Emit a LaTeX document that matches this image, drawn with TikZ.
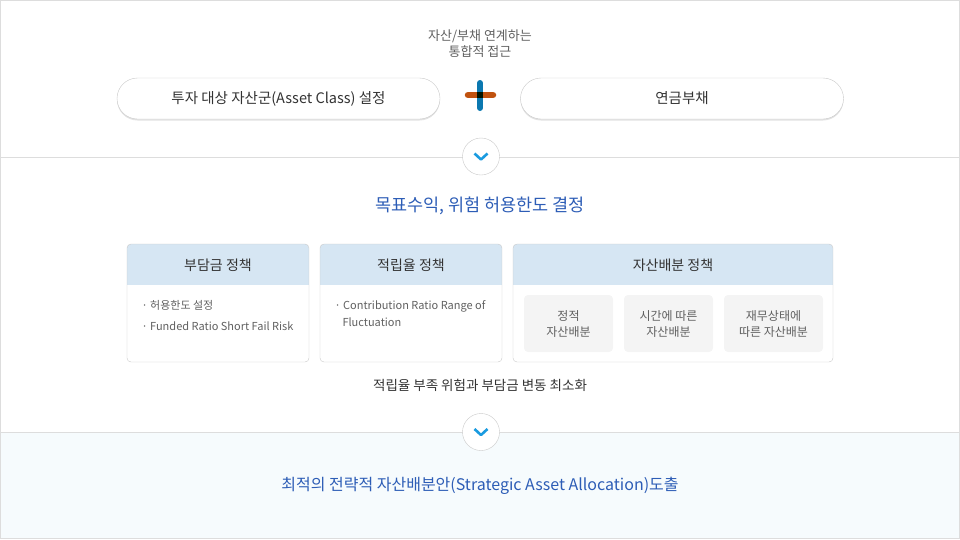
\documentclass[tikz,border=0pt]{standalone}
\usepackage{fontspec}
\setmainfont{Noto Sans CJK KR}
\definecolor{linegray}{HTML}{DDDDDD}
\definecolor{pillgray}{HTML}{C9C9C9}
\definecolor{shadegray}{HTML}{E2E2E2}
\definecolor{textdark}{HTML}{333333}
\definecolor{textgray}{HTML}{606060}
\definecolor{titleblue}{HTML}{2D5DB6}
\definecolor{headblue}{HTML}{D6E6F3}
\definecolor{subgray}{HTML}{F4F4F4}
\definecolor{bottomfill}{HTML}{F6FBFD}
\definecolor{chevblue}{HTML}{1A9BE0}
\definecolor{plusorange}{HTML}{C0520F}
\definecolor{plusblue}{HTML}{0B78B0}

\begin{document}
\begin{tikzpicture}[x=1pt,y=-1pt,
    pill/.style={draw=pillgray, fill=white, rounded corners=20.5pt,
        minimum width=323pt, minimum height=41pt,
        font=\fontsize{14.5}{16}\selectfont, text=textdark},
    pillshade/.style={fill=shadegray, rounded corners=20.5pt,
        minimum width=323pt, minimum height=41pt},
    panel/.style={draw=pillgray, rounded corners=4pt, minimum height=118pt},
    headtext/.style={font=\fontsize{14}{16}\selectfont, text=textdark},
    itemtext/.style={anchor=west, font=\fontsize{11}{13}\selectfont, text=textgray},
    subbox/.style={fill=subgray, rounded corners=4pt, minimum width=89pt,
        minimum height=57pt, align=center,
        font=\fontsize{12}{16}\selectfont, text=textgray},
    downbtn/.style={circle, draw=pillgray, fill=white, minimum size=37pt},
    chev/.style={draw=chevblue, line width=2.6pt, line join=round},
    bigtitle/.style={font=\fontsize{16}{18}\selectfont, text=titleblue}]

    % frame and sections
    \useasboundingbox (0,0) rectangle (960,539);
    \fill[bottomfill] (0,432) rectangle (960,539);
    \draw[linegray] (0.5,0.5) rectangle (959.5,538.5);
    \draw[linegray] (0,157) -- (960,157);
    \draw[linegray] (0,432) -- (960,432);

    % top: assets + liabilities
    \node[align=center, font=\fontsize{13}{16}\selectfont, text=textgray] (approach) at (480,44)
        {자산/부채 연계하는\\통합적 접근};
    \node[pillshade] at (278.5,100) {};
    \node[pillshade] at (682,100) {};
    \node[pill] (assetclass) at (278.5,98.5) {투자 대상 자산군(Asset Class) 설정};
    \node[pill] (liability) at (682,98.5) {연금부채};
    \draw[plusorange, line width=6.5pt, line cap=round] (468,95) -- (493,95);
    \draw[plusblue, line width=6pt, line cap=round] (480,83) -- (480,108);
    \fill[black!80!green!40!black] (477,91.7) rectangle (483,98.3);

    \node[downbtn] (down1) at (481,156.5) {};
    \draw[chev] (474.5,153.5) -- (481,159.5) -- (487.5,153.5);

    % middle: policies
    \node[bigtitle, font=\fontsize{17.5}{20}\selectfont] (goal) at (480,206) {목표수익, 위험 허용한도 결정};

    \begin{scope}
        \clip[rounded corners=4pt] (127,244) rectangle (309,362);
        \fill[headblue] (127,244) rectangle (309,285);
    \end{scope}
    \begin{scope}
        \clip[rounded corners=4pt] (320,244) rectangle (502,362);
        \fill[headblue] (320,244) rectangle (502,285);
    \end{scope}
    \begin{scope}
        \clip[rounded corners=4pt] (513,244) rectangle (833,362);
        \fill[headblue] (513,244) rectangle (833,285);
    \end{scope}
    \node[panel, minimum width=182pt] (funding) at (218,303) {};
    \node[panel, minimum width=182pt] (ratio) at (411,303) {};
    \node[panel, minimum width=320pt] (allocation) at (673,303) {};

    \node[headtext] (fundinghead) at (218,265.5) {부담금 정책};
    \node[headtext] (ratiohead) at (411,265.5) {적립율 정책};
    \node[headtext] (allochead) at (673,265.5) {자산배분 정책};

    \node[itemtext] (fund1) at (138,305) {· 허용한도 설정};
    \node[itemtext] (fund2) at (138,326) {· Funded Ratio Short Fail Risk};
    \node[itemtext] (ratio1) at (331,306) {· Contribution Ratio Range of};
    \node[itemtext] (ratio2) at (339,322) {Fluctuation};

    \node[subbox] (static) at (568.5,323.5) {정적\\자산배분};
    \node[subbox] (timed) at (668.5,323.5) {시간에 따른\\자산배분};
    \node[subbox, minimum width=99pt] (financial) at (773.5,323.5) {재무상태에\\따른 자산배분};

    \node[font=\fontsize{13.5}{15}\selectfont, text=textdark] (minimize) at (480,385) {적립율 부족 위험과 부담금 변동 최소화};

    \node[downbtn] (down2) at (481,432) {};
    \draw[chev] (474.5,429) -- (481,435) -- (487.5,429);

    % bottom: result
    \node[bigtitle] (result) at (480,486) {최적의 전략적 자산배분안(Strategic Asset Allocation)도출};
\end{tikzpicture}
\end{document}
